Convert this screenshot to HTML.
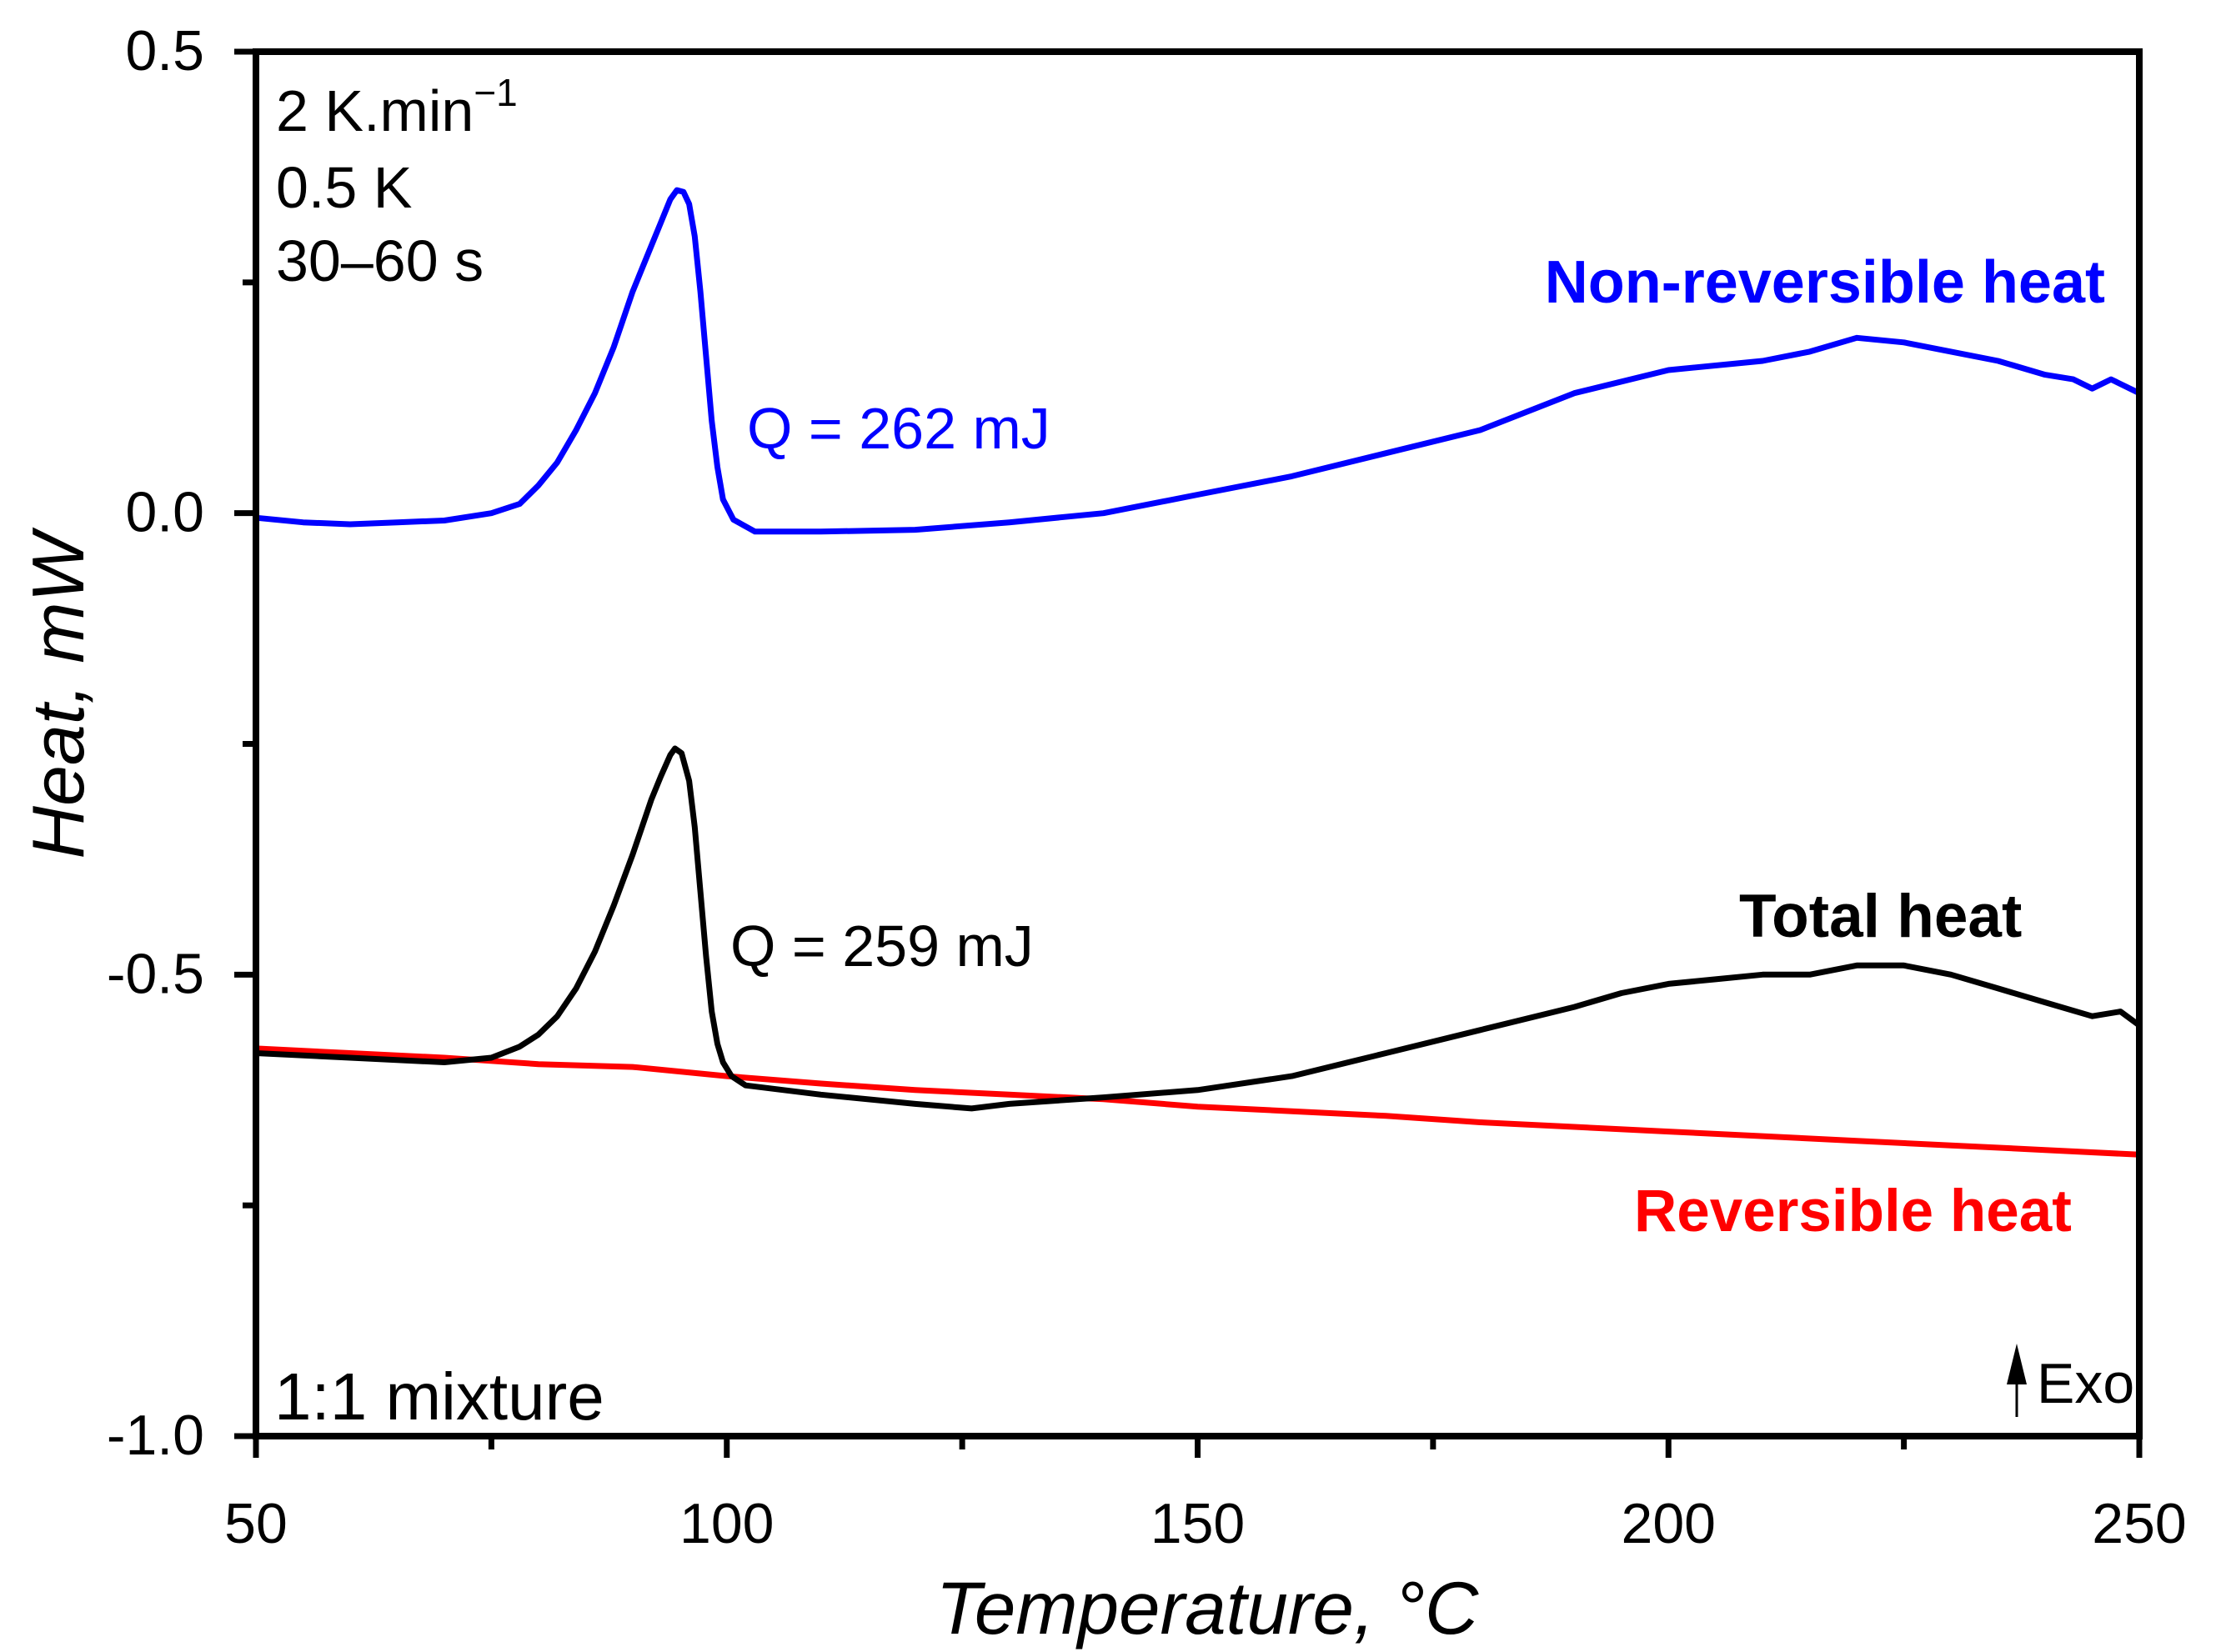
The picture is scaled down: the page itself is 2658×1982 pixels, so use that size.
<!DOCTYPE html>
<html><head><meta charset="utf-8"><style>
html,body{margin:0;padding:0;background:#fff;}
svg{display:block;}
text{font-family:"Liberation Sans",Arial,sans-serif;}
</style></head><body>
<svg id="chart" width="2658" height="1982" viewBox="0 0 2658 1982">
<g id="series"></g>
<g id="axes"></g>
<g id="labels" font-size="70">
<text x="331" y="157">2 K.min<tspan dy="-30" font-size="46">−1</tspan></text>
<text x="331" y="249">0.5 K</text>
<text x="331" y="337">30–60 s</text>
<text x="2525" y="363" text-anchor="end" fill="#0000ff" font-weight="bold" font-size="72">Non-reversible heat</text>
<text x="896" y="538" fill="#0000ff">Q = 262 mJ</text>
<text x="876" y="1159" fill="#000">Q = 259 mJ</text>
<text x="2086" y="1124" font-weight="bold" font-size="73">Total heat</text>
<text x="1960" y="1477" fill="#ff0000" font-weight="bold" font-size="71">Reversible heat</text>
<text x="329" y="1703" font-size="80">1:1 mixture</text>
<text x="2443" y="1683" font-size="68">Exo</text>
<line x1="2419" y1="1700" x2="2419" y2="1650" stroke="#000" stroke-width="3"/>
<polygon points="2419,1612 2407,1661 2431,1661" fill="#000"/>
<text x="0" y="0" font-size="88" font-style="italic" text-anchor="middle" transform="translate(100,835) rotate(-90)">Heat, mW</text>
<text x="1448" y="1960" font-size="89" font-style="italic" text-anchor="middle">Temperature, °C</text>
</g>
</svg>
<script>
const tempNonRev = [50,55,60,65,70,75,78,80,82,84,86,88,90,92,93,94,94.7,95.4,96,96.6,97.2,97.8,98.4,99,99.6,100.7,103,110,120,130,140,150,160,170,180,190,200,210,215,220,225,230,235,240,243,245,247,250];
const heatNonRev = [-0.005,-0.01,-0.012,-0.01,-0.008,0.0,0.01,0.03,0.055,0.09,0.13,0.18,0.24,0.29,0.315,0.34,0.35,0.348,0.335,0.3,0.24,0.17,0.1,0.05,0.015,-0.007,-0.02,-0.02,-0.018,-0.01,0.0,0.02,0.04,0.065,0.09,0.13,0.155,0.165,0.175,0.19,0.185,0.175,0.165,0.15,0.145,0.135,0.145,0.13];
const tempTotal = [50,60,70,75,78,80,82,84,86,88,90,92,93,94,94.5,95.2,96,96.6,97.2,97.8,98.4,99,99.6,100.5,102,110,120,126,130,140,150,160,170,180,190,195,200,205,210,215,220,225,230,235,240,245,248,250];
const heatTotal = [-0.585,-0.59,-0.595,-0.59,-0.578,-0.565,-0.545,-0.515,-0.475,-0.425,-0.37,-0.31,-0.285,-0.262,-0.255,-0.26,-0.29,-0.34,-0.41,-0.48,-0.54,-0.575,-0.595,-0.61,-0.62,-0.63,-0.64,-0.645,-0.64,-0.633,-0.625,-0.61,-0.585,-0.56,-0.535,-0.52,-0.51,-0.505,-0.5,-0.5,-0.49,-0.49,-0.5,-0.515,-0.53,-0.545,-0.54,-0.555];
const tempRev = [50,60,70,80,90,100,110,120,130,140,150,160,170,180,190,200,210,220,230,240,250];
const heatRev = [-0.58,-0.585,-0.59,-0.597,-0.6,-0.61,-0.618,-0.625,-0.63,-0.635,-0.643,-0.648,-0.653,-0.66,-0.665,-0.67,-0.675,-0.68,-0.685,-0.69,-0.695];
const xTicks = [50,100,150,200,250];
const xTickLabels = ["50","100","150","200","250"];
const xMinorTicks = [75,125,175,225];
const yTicks = [0.5,0,-0.5,-1.0];
const yTickLabels = ["0.5","0.0","-0.5","-1.0"];
const yMinorTicks = [0.25,-0.25,-0.75];

const L=307,R=2566,T=62,B=1723;
function xs(v){return L+(v-50)/200*(R-L);}
function ys(v){return T+(0.5-v)/1.5*(B-T);}
const NS="http://www.w3.org/2000/svg";
const sg=document.getElementById('series'), ag=document.getElementById('axes');
function mk(tag,attrs,parent){const e=document.createElementNS(NS,tag);for(const k in attrs)e.setAttribute(k,attrs[k]);parent.appendChild(e);return e;}
function line(xa,ya,color,name){
  const d=xa.map((x,i)=>(i?'L':'M')+xs(x).toFixed(1)+','+ys(ya[i]).toFixed(1)).join(' ');
  const p=mk('path',{d:d,fill:'none',stroke:color,'stroke-width':7,'stroke-linejoin':'round'},sg);
  
  
}
line(tempRev,heatRev,'#ff0000','reversible-heat-line');
line(tempTotal,heatTotal,'#000000','total-heat-line');
line(tempNonRev,heatNonRev,'#0000ff','non-reversible-heat-line');

const frame=mk('rect',{x:L,y:T,width:R-L,height:B-T,fill:'none',stroke:'#000','stroke-width':8},ag);


xTicks.forEach((v,i)=>{
  const t=mk('line',{x1:xs(v),x2:xs(v),y1:B,y2:B+26,stroke:'#000','stroke-width':7},ag);
  
  
  const tx=mk('text',{x:xs(v),y:1851,'text-anchor':'middle','font-size':68},ag);
  tx.textContent=xTickLabels[i];
  
  
});
xMinorTicks.forEach(v=>{
  const t=mk('line',{x1:xs(v),x2:xs(v),y1:B,y2:B+16,stroke:'#000','stroke-width':7},ag);
  
  
});
yTicks.forEach((v,i)=>{
  const t=mk('line',{x1:L-26,x2:L,y1:ys(v),y2:ys(v),stroke:'#000','stroke-width':7},ag);
  
  
  const tx=mk('text',{x:245,y:ys(v)+22,'text-anchor':'end','font-size':68},ag);
  tx.textContent=yTickLabels[i];
  
  
});
yMinorTicks.forEach(v=>{
  const t=mk('line',{x1:L-16,x2:L,y1:ys(v),y2:ys(v),stroke:'#000','stroke-width':7},ag);
  
  
});
</script>
</body></html>
